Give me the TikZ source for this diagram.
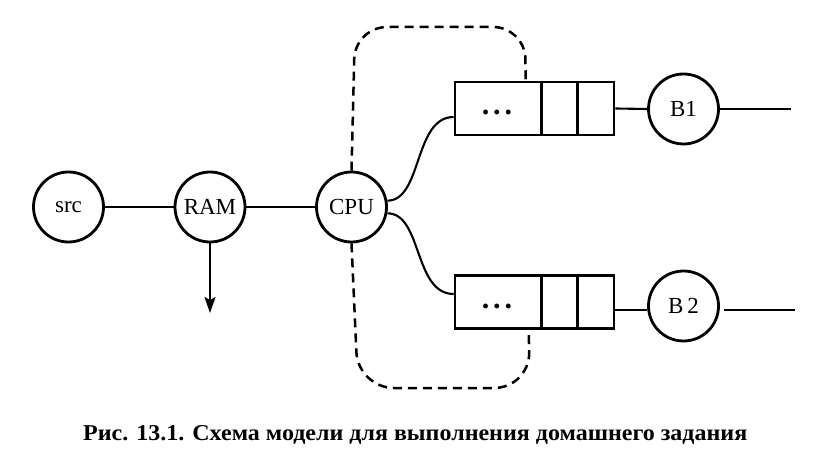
\documentclass[tikz,border=0pt]{standalone}
\usepackage{fontspec}
\usepackage{graphicx}
\setmainfont{Liberation Serif}
\usetikzlibrary{arrows.meta}
\begin{document}
\begin{tikzpicture}[x=1pt,y=-1pt,
  station/.style={circle,draw,line width=2.8pt,minimum size=70pt,inner sep=0pt,
    font=\fontsize{23pt}{26pt}\selectfont},
  queuebox/.style={rectangle,draw,line width=2.6pt,minimum width=159pt,minimum height=53pt,inner sep=0pt},
  link/.style={line width=2.1pt},
  feedback/.style={line width=2.5pt,dash pattern=on 9pt off 6pt}]
\useasboundingbox (0,0) rectangle (826,462);

\node[station] (src) at (68.5,207) {src};
\node[station] (ram) at (210,207) {RAM};
\node[station] (cpu) at (351.5,207) {CPU};
\node[queuebox] (q1) at (534.5,108.5) {};
\node[queuebox] (q2) at (534.5,302) {};
\node[station] (b1) at (683.5,109) {B1};
\node[station] (b2) at (683.5,306) {B\,2};

% dots in queues
\node[font=\fontsize{30pt}{30pt}\selectfont\bfseries,inner sep=0pt] (d1) at (497,112) {.\hspace{4pt}.\hspace{4pt}.};
\node[font=\fontsize{30pt}{30pt}\selectfont\bfseries,inner sep=0pt] (d2) at (497,306) {.\hspace{4pt}.\hspace{4pt}.};

% queue dividers
\draw[line width=2.6pt] ([xshift=88pt]q1.north west) -- ([xshift=88pt]q1.south west);
\draw[line width=2.6pt] ([xshift=124pt]q1.north west) -- ([xshift=124pt]q1.south west);
\draw[line width=2.6pt] ([xshift=88pt]q2.north west) -- ([xshift=88pt]q2.south west);
\draw[line width=2.6pt] ([xshift=124pt]q2.north west) -- ([xshift=124pt]q2.south west);

\coordinate (ramout) at (210,313);
\coordinate (out1) at (791,109);
\coordinate (out2) at (795,310);

\draw[link] (src) -- (ram);
\draw[link] (ram) -- (cpu);
\draw[link,-{Stealth[length=16pt,width=11pt,inset=3pt]}] (ram.south) -- (ramout);

\draw[link] (cpu.10) .. controls +(35,0) and +(-40,0) .. ([yshift=-8.5pt]q1.west);
\draw[link] (cpu.-10) .. controls +(35,0) and +(-40,0) .. ([yshift=8pt]q2.west);

\draw[link] (q1.east) -- (b1.west);
\draw[link] (b1.east) -- (out1);
\draw[link] ([yshift=-8pt]q2.east) -- ([yshift=-4pt]b2.west);
\draw[link,shorten <=4pt] ([yshift=-4pt]b2.east) -- (out2);

\draw[feedback,rounded corners=32pt] (cpu.north) -- (355,27) -- (525,27) -- ([xshift=72pt]q1.north west);
\draw[feedback,rounded corners=36pt] (cpu.south) -- (358,388) -- (530,388) -- ([xshift=75pt]q2.south west);

\node[anchor=base west,inner sep=0pt] (cap) at (83,440)
  {\resizebox{664pt}{15pt}{\bfseries Рис. 13.1. Схема модели для выполнения домашнего задания}};
\end{tikzpicture}
\end{document}
